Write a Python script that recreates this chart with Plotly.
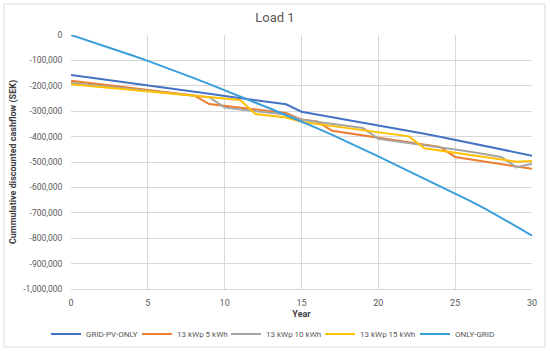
import plotly.graph_objects as go

years = list(range(0, 31))

grid_pv_only = [-157000, -165000, -173000, -181000, -189500, -198000, -206000, -214500, -223000, -231500,
                -240000, -248500, -257000, -265000, -273000, -302000, -312500, -323000, -333500, -344000,
                -355000, -366000, -377500, -389000, -400500, -412500, -424500, -437000, -449500, -462000, -475000]

kwh5 = [-180000, -187500, -195000, -202500, -210000, -217000, -224000, -231000, -238000, -272000,
        -279000, -286000, -293000, -300000, -307000, -333000, -340000, -377000, -386000, -394000,
        -403000, -412000, -422000, -431000, -441000, -480000, -490000, -499000, -509000, -518000, -527000]

kwh10 = [-188000, -194500, -201000, -207500, -214000, -220000, -226500, -233000, -239000, -245000,
         -286000, -293000, -300000, -306000, -313000, -334000, -342000, -350000, -358000, -366000,
         -409000, -417000, -425000, -433000, -442000, -451000, -460000, -470000, -480000, -521000, -507000]

kwh15 = [-194000, -199500, -205000, -210500, -216000, -221500, -227000, -232000, -237500, -243000,
         -249000, -256000, -311000, -318000, -325000, -342000, -350000, -358000, -366000, -374000,
         -382000, -391000, -399000, -446000, -455000, -464000, -473000, -482000, -491000, -499000, -496000]

only_grid = [0, -19500, -39500, -60000, -80500, -102000, -124000, -146500, -170000, -193500,
             -217000, -241000, -265500, -290500, -316000, -340000, -366500, -393500, -421000, -449000,
             -478000, -507000, -536000, -565000, -594000, -623000, -654000, -686000, -719000, -754000, -790000]

series_names = ["GRID-PV-ONLY", "13 kWp 5 kWh", "13 kWp 10 kWh", "13 kWp 15 kWh", "ONLY-GRID"]
series_values = [grid_pv_only, kwh5, kwh10, kwh15, only_grid]
colors = ["#4472C4", "#ED7D31", "#A5A5A5", "#FFC000", "#3A9EDB"]

y_tickvals = [0, -100000, -200000, -300000, -400000, -500000, -600000, -700000, -800000, -900000, -1000000]
y_ticktext = ["0", "-100,000", "-200,000", "-300,000", "-400,000", "-500,000", "-600,000",
              "-700,000", "-800,000", "-900,000", "-1,000,000"]
x_tickvals = [0, 5, 10, 15, 20, 25, 30]

FONT = "Roboto"
legend_ids = ["legend", "legend2", "legend3", "legend4", "legend5"]
legend_left_px = [46, 137, 226, 320, 415]

fig = go.Figure()
for name, vals, col, lid in zip(series_names, series_values, colors, legend_ids):
    fig.add_trace(go.Scatter(x=years, y=vals, mode="lines", name=name, legend=lid,
                             line=dict(color=col, width=2)))

layout_legends = {}
for lid, px in zip(legend_ids, legend_left_px):
    layout_legends[lid] = dict(orientation="h", xref="container", yref="container",
                               x=px / 550, xanchor="left", y=1 - 334 / 351, yanchor="middle",
                               font=dict(family=FONT, size=8, color="#595959"), itemwidth=30,
                               bgcolor="rgba(0,0,0,0)")

fig.update_layout(
    width=550, height=351,
    margin=dict(l=71, r=18, t=35, b=62, autoexpand=False),
    paper_bgcolor="white", plot_bgcolor="white",
    font=dict(family=FONT, size=9, color="#595959"),
    title=dict(text="Load 1", x=0.5, xanchor="center", y=1 - 17 / 351, yanchor="middle",
               font=dict(family=FONT, size=13, color="#595959")),
    showlegend=True,
    shapes=[dict(type="rect", xref="paper", yref="paper",
                 x0=(4 - 71) / 461, x1=(545 - 71) / 461, y0=(289 - 347) / 254, y1=(289 - 4) / 254,
                 line=dict(color="#D9D9D9", width=1), fillcolor="rgba(0,0,0,0)", layer="below")],
    **layout_legends,
)
fig.update_xaxes(range=[0, 30], tickvals=x_tickvals, showgrid=True, gridcolor="#D9D9D9", gridwidth=1,
                 zeroline=False, showline=True, linecolor="#D9D9D9",
                 ticks="outside", ticklen=5, tickcolor="rgba(0,0,0,0)",
                 title=dict(text="<b>Year</b>", font=dict(family=FONT, size=9, color="#404040"), standoff=8),
                 tickfont=dict(family=FONT, size=9, color="#595959"))
fig.update_yaxes(range=[-1000000, 0], tickvals=y_tickvals, ticktext=y_ticktext, showgrid=True,
                 gridcolor="#D9D9D9", gridwidth=1, zeroline=False, showline=False,
                 ticks="outside", ticklen=6, tickcolor="rgba(0,0,0,0)",
                 title=dict(text="<b>Cummulative discounted cashflow (SEK)</b>",
                            font=dict(family=FONT, size=9, color="#404040"), standoff=5),
                 tickfont=dict(family=FONT, size=8.5, color="#595959"))

fig.write_html("out.html", config={"displayModeBar": False},
               post_script="document.body.style.margin='0';document.body.style.padding='0';")
